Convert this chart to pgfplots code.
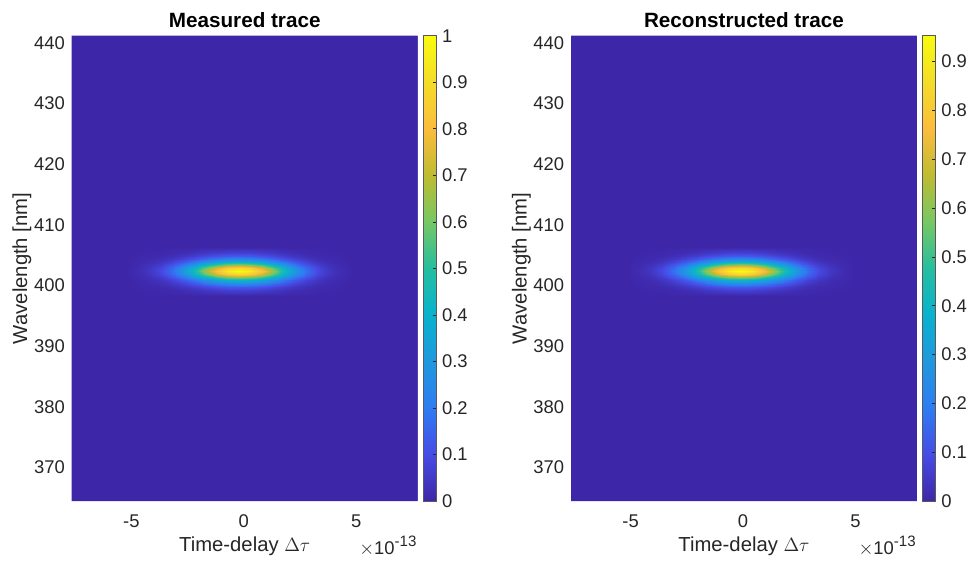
\documentclass[border=0pt]{standalone}
\usepackage{pgfplots}
\pgfplotsset{compat=1.18}
\usepackage{fontspec}
\setmainfont{Liberation Sans}
\definecolor{tickgray}{rgb}{0.15,0.15,0.15}
\definecolor{cbline}{rgb}{0.35,0.35,0.35}
\pgfplotsset{
  colormap={parula}{rgb255=(62,38,168) rgb255=(70,76,230) rgb255=(46,124,242) rgb255=(32,152,223) rgb255=(9,178,206) rgb255=(38,190,160) rgb255=(118,200,100) rgb255=(190,188,50) rgb255=(252,188,61) rgb255=(244,220,40) rgb255=(249,251,14)},
  heat/.style={
    view={0}{90}, scale only axis, width=259.5pt, height=349pt,
    anchor=south west,
    xmin=-7.65, xmax=7.74, ymin=364.45, ymax=441.15,
    enlargelimits=false,
    axis line style={draw=none}, major tick length=0pt,
    xtick={-5,0,5}, xticklabels={-5,0,5},
    ytick={370,380,390,400,410,420,430,440},
    yticklabels={370,380,390,400,410,420,430,440},
    tick label style={font=\fontsize{13.8}{16}\selectfont, text=tickgray, inner sep=0pt},
    xticklabel style={anchor=base, yshift=-19.9pt},
    yticklabel style={anchor=east, xshift=-5pt},
    xlabel={Time-delay $\Delta\tau$},
    ylabel={Wavelength [nm]},
    xlabel style={font=\fontsize{15.2}{18}\selectfont, text=tickgray, at={(axis description cs:0.5,0)}, anchor=base, yshift=-38.2pt},
    ylabel style={font=\fontsize{15.2}{18}\selectfont, text=tickgray, at={(axis description cs:0,0.5)}, anchor=center, yshift=37.3pt},
    title style={font=\fontsize{15.5}{18}\selectfont\bfseries, at={(axis description cs:0.5,1)}, anchor=base, yshift=0.5pt},
    colormap name=parula,
    point meta min=0,
    colorbar,
  },
  cbar/.style={
    colorbar style={
      at={(parent axis.north east)}, anchor=north west, xshift=-4.25pt,
      scale only axis, width=9.3pt, height=349pt,
      axis line style={draw=cbline, line width=0.5pt},
      major tick length=2.5pt, tick align=inside,
      tick style={draw=tickgray, line width=0.4pt},
      xtick=\empty, xlabel={}, ylabel={}, title={},
      ytick pos=right, yticklabel pos=right,
      yticklabel style={font=\fontsize{13.8}{16}\selectfont, text=tickgray, anchor=west, inner sep=0pt, xshift=4.5pt},
      #1
    }
  }
}
\newcommand{\expolabel}{\fontsize{13.8}{16}\selectfont$\times$10\raisebox{6pt}{\fontsize{11.3}{12}\selectfont -13}}
\begin{document}
\begin{tikzpicture}
\path[use as bounding box] (0,0) rectangle (726pt,420.75pt);
% ---------------- Left panel ----------------
\begin{axis}[heat, name=L, at={(53.8pt,45pt)}, title={Measured trace}, point meta max=1,
  cbar={ytick={0,0.1,0.2,0.3,0.4,0.5,0.6,0.7,0.8,0.9,1}, yticklabels={0,0.1,0.2,0.3,0.4,0.5,0.6,0.7,0.8,0.9,1}}]
\addplot3[surf, shader=flat, mesh/rows=2, mesh/cols=2] coordinates {(-7.65,364.45,0) (7.74,364.45,0) (-7.65,441.15,0) (7.74,441.15,0)};
\addplot3[surf, shader=interp, mesh/rows=17, mesh/cols=21] table[row sep=\\] {
x y z\\
-5.2 398.3 0\\ -4.7 398.3 0\\ -4.2 398.3 0\\ -3.7 398.3 0\\ -3.2 398.3 0\\ -2.7 398.3 0\\ -2.2 398.3 0\\ -1.7 398.3 0\\ -1.2 398.3 0\\ -0.7 398.3 0\\ -0.2 398.3 0\\ 0.3 398.3 0\\ 0.8 398.3 0\\ 1.3 398.3 0\\ 1.8 398.3 0\\ 2.3 398.3 0\\ 2.8 398.3 0\\ 3.3 398.3 0\\ 3.8 398.3 0\\ 4.3 398.3 0\\ 4.8 398.3 0\\
-5.2 398.8 0\\ -4.7 398.8 .001\\ -4.2 398.8 .002\\ -3.7 398.8 .003\\ -3.2 398.8 .006\\ -2.7 398.8 .011\\ -2.2 398.8 .017\\ -1.7 398.8 .024\\ -1.2 398.8 .030\\ -0.7 398.8 .035\\ -0.2 398.8 .037\\ 0.3 398.8 .035\\ 0.8 398.8 .030\\ 1.3 398.8 .024\\ 1.8 398.8 .017\\ 2.3 398.8 .011\\ 2.8 398.8 .006\\ 3.3 398.8 .003\\ 3.8 398.8 .002\\ 4.3 398.8 .001\\ 4.8 398.8 0\\
-5.2 399.3 0\\ -4.7 399.3 .001\\ -4.2 399.3 .003\\ -3.7 399.3 .006\\ -3.2 399.3 .012\\ -2.7 399.3 .021\\ -2.2 399.3 .033\\ -1.7 399.3 .046\\ -1.2 399.3 .058\\ -0.7 399.3 .068\\ -0.2 399.3 .071\\ 0.3 399.3 .068\\ 0.8 399.3 .058\\ 1.3 399.3 .046\\ 1.8 399.3 .033\\ 2.3 399.3 .021\\ 2.8 399.3 .012\\ 3.3 399.3 .006\\ 3.8 399.3 .003\\ 4.3 399.3 .001\\ 4.8 399.3 0\\
-5.2 399.8 0\\ -4.7 399.8 .003\\ -4.2 399.8 .006\\ -3.7 399.8 .012\\ -3.2 399.8 .023\\ -2.7 399.8 .039\\ -2.2 399.8 .061\\ -1.7 399.8 .086\\ -1.2 399.8 .109\\ -0.7 399.8 .127\\ -0.2 399.8 .133\\ 0.3 399.8 .127\\ 0.8 399.8 .109\\ 1.3 399.8 .086\\ 1.8 399.8 .061\\ 2.3 399.8 .039\\ 2.8 399.8 .023\\ 3.3 399.8 .012\\ 3.8 399.8 .006\\ 4.3 399.8 .003\\ 4.8 399.8 0\\
-5.2 400.3 0\\ -4.7 400.3 .005\\ -4.2 400.3 .011\\ -3.7 400.3 .022\\ -3.2 400.3 .042\\ -2.7 400.3 .072\\ -2.2 400.3 .111\\ -1.7 400.3 .156\\ -1.2 400.3 .200\\ -0.7 400.3 .231\\ -0.2 400.3 .243\\ 0.3 400.3 .231\\ 0.8 400.3 .200\\ 1.3 400.3 .156\\ 1.8 400.3 .111\\ 2.3 400.3 .072\\ 2.8 400.3 .042\\ 3.3 400.3 .022\\ 3.8 400.3 .011\\ 4.3 400.3 .005\\ 4.8 400.3 0\\
-5.2 400.8 0\\ -4.7 400.8 .008\\ -4.2 400.8 .018\\ -3.7 400.8 .038\\ -3.2 400.8 .072\\ -2.7 400.8 .124\\ -2.2 400.8 .192\\ -1.7 400.8 .270\\ -1.2 400.8 .346\\ -0.7 400.8 .400\\ -0.2 400.8 .420\\ 0.3 400.8 .400\\ 0.8 400.8 .346\\ 1.3 400.8 .270\\ 1.8 400.8 .192\\ 2.3 400.8 .124\\ 2.8 400.8 .072\\ 3.3 400.8 .038\\ 3.8 400.8 .018\\ 4.3 400.8 .008\\ 4.8 400.8 0\\
-5.2 401.3 0\\ -4.7 401.3 .013\\ -4.2 401.3 .029\\ -3.7 401.3 .060\\ -3.2 401.3 .114\\ -2.7 401.3 .195\\ -2.2 401.3 .302\\ -1.7 401.3 .425\\ -1.2 401.3 .543\\ -0.7 401.3 .628\\ -0.2 401.3 .660\\ 0.3 401.3 .628\\ 0.8 401.3 .543\\ 1.3 401.3 .425\\ 1.8 401.3 .302\\ 2.3 401.3 .195\\ 2.8 401.3 .114\\ 3.3 401.3 .060\\ 3.8 401.3 .029\\ 4.3 401.3 .013\\ 4.8 401.3 0\\
-5.2 401.8 0\\ -4.7 401.8 .017\\ -4.2 401.8 .039\\ -3.7 401.8 .082\\ -3.2 401.8 .154\\ -2.7 401.8 .265\\ -2.2 401.8 .411\\ -1.7 401.8 .578\\ -1.2 401.8 .738\\ -0.7 401.8 .854\\ -0.2 401.8 .897\\ 0.3 401.8 .854\\ 0.8 401.8 .738\\ 1.3 401.8 .578\\ 1.8 401.8 .411\\ 2.3 401.8 .265\\ 2.8 401.8 .154\\ 3.3 401.8 .082\\ 3.8 401.8 .039\\ 4.3 401.8 .017\\ 4.8 401.8 0\\
-5.2 402.3 0\\ -4.7 402.3 .019\\ -4.2 402.3 .044\\ -3.7 402.3 .091\\ -3.2 402.3 .172\\ -2.7 402.3 .295\\ -2.2 402.3 .458\\ -1.7 402.3 .644\\ -1.2 402.3 .823\\ -0.7 402.3 .952\\ -0.2 402.3 1\\ 0.3 402.3 .952\\ 0.8 402.3 .823\\ 1.3 402.3 .644\\ 1.8 402.3 .458\\ 2.3 402.3 .295\\ 2.8 402.3 .172\\ 3.3 402.3 .091\\ 3.8 402.3 .044\\ 4.3 402.3 .019\\ 4.8 402.3 0\\
-5.2 402.8 0\\ -4.7 402.8 .017\\ -4.2 402.8 .039\\ -3.7 402.8 .082\\ -3.2 402.8 .154\\ -2.7 402.8 .265\\ -2.2 402.8 .411\\ -1.7 402.8 .578\\ -1.2 402.8 .738\\ -0.7 402.8 .854\\ -0.2 402.8 .897\\ 0.3 402.8 .854\\ 0.8 402.8 .738\\ 1.3 402.8 .578\\ 1.8 402.8 .411\\ 2.3 402.8 .265\\ 2.8 402.8 .154\\ 3.3 402.8 .082\\ 3.8 402.8 .039\\ 4.3 402.8 .017\\ 4.8 402.8 0\\
-5.2 403.3 0\\ -4.7 403.3 .013\\ -4.2 403.3 .029\\ -3.7 403.3 .060\\ -3.2 403.3 .114\\ -2.7 403.3 .195\\ -2.2 403.3 .302\\ -1.7 403.3 .425\\ -1.2 403.3 .543\\ -0.7 403.3 .628\\ -0.2 403.3 .660\\ 0.3 403.3 .628\\ 0.8 403.3 .543\\ 1.3 403.3 .425\\ 1.8 403.3 .302\\ 2.3 403.3 .195\\ 2.8 403.3 .114\\ 3.3 403.3 .060\\ 3.8 403.3 .029\\ 4.3 403.3 .013\\ 4.8 403.3 0\\
-5.2 403.8 0\\ -4.7 403.8 .008\\ -4.2 403.8 .018\\ -3.7 403.8 .038\\ -3.2 403.8 .072\\ -2.7 403.8 .124\\ -2.2 403.8 .192\\ -1.7 403.8 .270\\ -1.2 403.8 .346\\ -0.7 403.8 .400\\ -0.2 403.8 .420\\ 0.3 403.8 .400\\ 0.8 403.8 .346\\ 1.3 403.8 .270\\ 1.8 403.8 .192\\ 2.3 403.8 .124\\ 2.8 403.8 .072\\ 3.3 403.8 .038\\ 3.8 403.8 .018\\ 4.3 403.8 .008\\ 4.8 403.8 0\\
-5.2 404.3 0\\ -4.7 404.3 .005\\ -4.2 404.3 .011\\ -3.7 404.3 .022\\ -3.2 404.3 .042\\ -2.7 404.3 .072\\ -2.2 404.3 .111\\ -1.7 404.3 .156\\ -1.2 404.3 .200\\ -0.7 404.3 .231\\ -0.2 404.3 .243\\ 0.3 404.3 .231\\ 0.8 404.3 .200\\ 1.3 404.3 .156\\ 1.8 404.3 .111\\ 2.3 404.3 .072\\ 2.8 404.3 .042\\ 3.3 404.3 .022\\ 3.8 404.3 .011\\ 4.3 404.3 .005\\ 4.8 404.3 0\\
-5.2 404.8 0\\ -4.7 404.8 .003\\ -4.2 404.8 .006\\ -3.7 404.8 .012\\ -3.2 404.8 .023\\ -2.7 404.8 .039\\ -2.2 404.8 .061\\ -1.7 404.8 .086\\ -1.2 404.8 .109\\ -0.7 404.8 .127\\ -0.2 404.8 .133\\ 0.3 404.8 .127\\ 0.8 404.8 .109\\ 1.3 404.8 .086\\ 1.8 404.8 .061\\ 2.3 404.8 .039\\ 2.8 404.8 .023\\ 3.3 404.8 .012\\ 3.8 404.8 .006\\ 4.3 404.8 .003\\ 4.8 404.8 0\\
-5.2 405.3 0\\ -4.7 405.3 .001\\ -4.2 405.3 .003\\ -3.7 405.3 .006\\ -3.2 405.3 .012\\ -2.7 405.3 .021\\ -2.2 405.3 .033\\ -1.7 405.3 .046\\ -1.2 405.3 .058\\ -0.7 405.3 .068\\ -0.2 405.3 .071\\ 0.3 405.3 .068\\ 0.8 405.3 .058\\ 1.3 405.3 .046\\ 1.8 405.3 .033\\ 2.3 405.3 .021\\ 2.8 405.3 .012\\ 3.3 405.3 .006\\ 3.8 405.3 .003\\ 4.3 405.3 .001\\ 4.8 405.3 0\\
-5.2 405.8 0\\ -4.7 405.8 .001\\ -4.2 405.8 .002\\ -3.7 405.8 .003\\ -3.2 405.8 .006\\ -2.7 405.8 .011\\ -2.2 405.8 .017\\ -1.7 405.8 .024\\ -1.2 405.8 .030\\ -0.7 405.8 .035\\ -0.2 405.8 .037\\ 0.3 405.8 .035\\ 0.8 405.8 .030\\ 1.3 405.8 .024\\ 1.8 405.8 .017\\ 2.3 405.8 .011\\ 2.8 405.8 .006\\ 3.3 405.8 .003\\ 3.8 405.8 .002\\ 4.3 405.8 .001\\ 4.8 405.8 0\\
-5.2 406.3 0\\ -4.7 406.3 0\\ -4.2 406.3 0\\ -3.7 406.3 0\\ -3.2 406.3 0\\ -2.7 406.3 0\\ -2.2 406.3 0\\ -1.7 406.3 0\\ -1.2 406.3 0\\ -0.7 406.3 0\\ -0.2 406.3 0\\ 0.3 406.3 0\\ 0.8 406.3 0\\ 1.3 406.3 0\\ 1.8 406.3 0\\ 2.3 406.3 0\\ 2.8 406.3 0\\ 3.3 406.3 0\\ 3.8 406.3 0\\ 4.3 406.3 0\\ 4.8 406.3 0\\
};
\end{axis}
% ---------------- Right panel ----------------
\begin{axis}[heat, name=R, at={(428.25pt,45pt)}, title={Reconstructed trace}, point meta max=0.953,
  cbar={ytick={0,0.1,0.2,0.3,0.4,0.5,0.6,0.7,0.8,0.9}, yticklabels={0,0.1,0.2,0.3,0.4,0.5,0.6,0.7,0.8,0.9}}]
\addplot3[surf, shader=flat, mesh/rows=2, mesh/cols=2] coordinates {(-7.65,364.45,0) (7.74,364.45,0) (-7.65,441.15,0) (7.74,441.15,0)};
\addplot3[surf, shader=interp, mesh/rows=17, mesh/cols=21] table[row sep=\\] {
x y z\\
-5.1 398.3 0\\ -4.6 398.3 0\\ -4.1 398.3 0\\ -3.6 398.3 0\\ -3.1 398.3 0\\ -2.6 398.3 0\\ -2.1 398.3 0\\ -1.6 398.3 0\\ -1.1 398.3 0\\ -0.6 398.3 0\\ -0.1 398.3 0\\ 0.4 398.3 0\\ 0.9 398.3 0\\ 1.4 398.3 0\\ 1.9 398.3 0\\ 2.4 398.3 0\\ 2.9 398.3 0\\ 3.4 398.3 0\\ 3.9 398.3 0\\ 4.4 398.3 0\\ 4.9 398.3 0\\
-5.1 398.8 0\\ -4.6 398.8 .001\\ -4.1 398.8 .002\\ -3.6 398.8 .003\\ -3.1 398.8 .006\\ -2.6 398.8 .010\\ -2.1 398.8 .016\\ -1.6 398.8 .023\\ -1.1 398.8 .029\\ -0.6 398.8 .033\\ -0.1 398.8 .035\\ 0.4 398.8 .033\\ 0.9 398.8 .029\\ 1.4 398.8 .023\\ 1.9 398.8 .016\\ 2.4 398.8 .010\\ 2.9 398.8 .006\\ 3.4 398.8 .003\\ 3.9 398.8 .002\\ 4.4 398.8 .001\\ 4.9 398.8 0\\
-5.1 399.3 0\\ -4.6 399.3 .001\\ -4.1 399.3 .003\\ -3.6 399.3 .006\\ -3.1 399.3 .011\\ -2.6 399.3 .020\\ -2.1 399.3 .031\\ -1.6 399.3 .044\\ -1.1 399.3 .055\\ -0.6 399.3 .065\\ -0.1 399.3 .068\\ 0.4 399.3 .065\\ 0.9 399.3 .055\\ 1.4 399.3 .044\\ 1.9 399.3 .031\\ 2.4 399.3 .020\\ 2.9 399.3 .011\\ 3.4 399.3 .006\\ 3.9 399.3 .003\\ 4.4 399.3 .001\\ 4.9 399.3 0\\
-5.1 399.8 0\\ -4.6 399.8 .003\\ -4.1 399.8 .006\\ -3.6 399.8 .011\\ -3.1 399.8 .022\\ -2.6 399.8 .037\\ -2.1 399.8 .058\\ -1.6 399.8 .082\\ -1.1 399.8 .104\\ -0.6 399.8 .121\\ -0.1 399.8 .127\\ 0.4 399.8 .121\\ 0.9 399.8 .104\\ 1.4 399.8 .082\\ 1.9 399.8 .058\\ 2.4 399.8 .037\\ 2.9 399.8 .022\\ 3.4 399.8 .011\\ 3.9 399.8 .006\\ 4.4 399.8 .003\\ 4.9 399.8 0\\
-5.1 400.3 0\\ -4.6 400.3 .005\\ -4.1 400.3 .010\\ -3.6 400.3 .021\\ -3.1 400.3 .040\\ -2.6 400.3 .069\\ -2.1 400.3 .106\\ -1.6 400.3 .149\\ -1.1 400.3 .191\\ -0.6 400.3 .220\\ -0.1 400.3 .232\\ 0.4 400.3 .220\\ 0.9 400.3 .191\\ 1.4 400.3 .149\\ 1.9 400.3 .106\\ 2.4 400.3 .069\\ 2.9 400.3 .040\\ 3.4 400.3 .021\\ 3.9 400.3 .010\\ 4.4 400.3 .005\\ 4.9 400.3 0\\
-5.1 400.8 0\\ -4.6 400.8 .008\\ -4.1 400.8 .017\\ -3.6 400.8 .036\\ -3.1 400.8 .069\\ -2.6 400.8 .118\\ -2.1 400.8 .183\\ -1.6 400.8 .257\\ -1.1 400.8 .330\\ -0.6 400.8 .381\\ -0.1 400.8 .400\\ 0.4 400.8 .381\\ 0.9 400.8 .330\\ 1.4 400.8 .257\\ 1.9 400.8 .183\\ 2.4 400.8 .118\\ 2.9 400.8 .069\\ 3.4 400.8 .036\\ 3.9 400.8 .017\\ 4.4 400.8 .008\\ 4.9 400.8 0\\
-5.1 401.3 0\\ -4.6 401.3 .012\\ -4.1 401.3 .028\\ -3.6 401.3 .057\\ -3.1 401.3 .109\\ -2.6 401.3 .186\\ -2.1 401.3 .288\\ -1.6 401.3 .405\\ -1.1 401.3 .517\\ -0.6 401.3 .598\\ -0.1 401.3 .629\\ 0.4 401.3 .598\\ 0.9 401.3 .517\\ 1.4 401.3 .405\\ 1.9 401.3 .288\\ 2.4 401.3 .186\\ 2.9 401.3 .109\\ 3.4 401.3 .057\\ 3.9 401.3 .028\\ 4.4 401.3 .012\\ 4.9 401.3 0\\
-5.1 401.8 0\\ -4.6 401.8 .016\\ -4.1 401.8 .037\\ -3.6 401.8 .078\\ -3.1 401.8 .147\\ -2.6 401.8 .253\\ -2.1 401.8 .392\\ -1.6 401.8 .551\\ -1.1 401.8 .703\\ -0.6 401.8 .814\\ -0.1 401.8 .855\\ 0.4 401.8 .814\\ 0.9 401.8 .703\\ 1.4 401.8 .551\\ 1.9 401.8 .392\\ 2.4 401.8 .253\\ 2.9 401.8 .147\\ 3.4 401.8 .078\\ 3.9 401.8 .037\\ 4.4 401.8 .016\\ 4.9 401.8 0\\
-5.1 402.3 0\\ -4.6 402.3 .018\\ -4.1 402.3 .042\\ -3.6 402.3 .087\\ -3.1 402.3 .164\\ -2.6 402.3 .281\\ -2.1 402.3 .436\\ -1.6 402.3 .614\\ -1.1 402.3 .784\\ -0.6 402.3 .907\\ -0.1 402.3 .953\\ 0.4 402.3 .907\\ 0.9 402.3 .784\\ 1.4 402.3 .614\\ 1.9 402.3 .436\\ 2.4 402.3 .281\\ 2.9 402.3 .164\\ 3.4 402.3 .087\\ 3.9 402.3 .042\\ 4.4 402.3 .018\\ 4.9 402.3 0\\
-5.1 402.8 0\\ -4.6 402.8 .016\\ -4.1 402.8 .037\\ -3.6 402.8 .078\\ -3.1 402.8 .147\\ -2.6 402.8 .253\\ -2.1 402.8 .392\\ -1.6 402.8 .551\\ -1.1 402.8 .703\\ -0.6 402.8 .814\\ -0.1 402.8 .855\\ 0.4 402.8 .814\\ 0.9 402.8 .703\\ 1.4 402.8 .551\\ 1.9 402.8 .392\\ 2.4 402.8 .253\\ 2.9 402.8 .147\\ 3.4 402.8 .078\\ 3.9 402.8 .037\\ 4.4 402.8 .016\\ 4.9 402.8 0\\
-5.1 403.3 0\\ -4.6 403.3 .012\\ -4.1 403.3 .028\\ -3.6 403.3 .057\\ -3.1 403.3 .109\\ -2.6 403.3 .186\\ -2.1 403.3 .288\\ -1.6 403.3 .405\\ -1.1 403.3 .517\\ -0.6 403.3 .598\\ -0.1 403.3 .629\\ 0.4 403.3 .598\\ 0.9 403.3 .517\\ 1.4 403.3 .405\\ 1.9 403.3 .288\\ 2.4 403.3 .186\\ 2.9 403.3 .109\\ 3.4 403.3 .057\\ 3.9 403.3 .028\\ 4.4 403.3 .012\\ 4.9 403.3 0\\
-5.1 403.8 0\\ -4.6 403.8 .008\\ -4.1 403.8 .017\\ -3.6 403.8 .036\\ -3.1 403.8 .069\\ -2.6 403.8 .118\\ -2.1 403.8 .183\\ -1.6 403.8 .257\\ -1.1 403.8 .330\\ -0.6 403.8 .381\\ -0.1 403.8 .400\\ 0.4 403.8 .381\\ 0.9 403.8 .330\\ 1.4 403.8 .257\\ 1.9 403.8 .183\\ 2.4 403.8 .118\\ 2.9 403.8 .069\\ 3.4 403.8 .036\\ 3.9 403.8 .017\\ 4.4 403.8 .008\\ 4.9 403.8 0\\
-5.1 404.3 0\\ -4.6 404.3 .005\\ -4.1 404.3 .010\\ -3.6 404.3 .021\\ -3.1 404.3 .040\\ -2.6 404.3 .069\\ -2.1 404.3 .106\\ -1.6 404.3 .149\\ -1.1 404.3 .191\\ -0.6 404.3 .220\\ -0.1 404.3 .232\\ 0.4 404.3 .220\\ 0.9 404.3 .191\\ 1.4 404.3 .149\\ 1.9 404.3 .106\\ 2.4 404.3 .069\\ 2.9 404.3 .040\\ 3.4 404.3 .021\\ 3.9 404.3 .010\\ 4.4 404.3 .005\\ 4.9 404.3 0\\
-5.1 404.8 0\\ -4.6 404.8 .003\\ -4.1 404.8 .006\\ -3.6 404.8 .011\\ -3.1 404.8 .022\\ -2.6 404.8 .037\\ -2.1 404.8 .058\\ -1.6 404.8 .082\\ -1.1 404.8 .104\\ -0.6 404.8 .121\\ -0.1 404.8 .127\\ 0.4 404.8 .121\\ 0.9 404.8 .104\\ 1.4 404.8 .082\\ 1.9 404.8 .058\\ 2.4 404.8 .037\\ 2.9 404.8 .022\\ 3.4 404.8 .011\\ 3.9 404.8 .006\\ 4.4 404.8 .003\\ 4.9 404.8 0\\
-5.1 405.3 0\\ -4.6 405.3 .001\\ -4.1 405.3 .003\\ -3.6 405.3 .006\\ -3.1 405.3 .011\\ -2.6 405.3 .020\\ -2.1 405.3 .031\\ -1.6 405.3 .044\\ -1.1 405.3 .055\\ -0.6 405.3 .065\\ -0.1 405.3 .068\\ 0.4 405.3 .065\\ 0.9 405.3 .055\\ 1.4 405.3 .044\\ 1.9 405.3 .031\\ 2.4 405.3 .020\\ 2.9 405.3 .011\\ 3.4 405.3 .006\\ 3.9 405.3 .003\\ 4.4 405.3 .001\\ 4.9 405.3 0\\
-5.1 405.8 0\\ -4.6 405.8 .001\\ -4.1 405.8 .002\\ -3.6 405.8 .003\\ -3.1 405.8 .006\\ -2.6 405.8 .010\\ -2.1 405.8 .016\\ -1.6 405.8 .023\\ -1.1 405.8 .029\\ -0.6 405.8 .033\\ -0.1 405.8 .035\\ 0.4 405.8 .033\\ 0.9 405.8 .029\\ 1.4 405.8 .023\\ 1.9 405.8 .016\\ 2.4 405.8 .010\\ 2.9 405.8 .006\\ 3.4 405.8 .003\\ 3.9 405.8 .002\\ 4.4 405.8 .001\\ 4.9 405.8 0\\
-5.1 406.3 0\\ -4.6 406.3 0\\ -4.1 406.3 0\\ -3.6 406.3 0\\ -3.1 406.3 0\\ -2.6 406.3 0\\ -2.1 406.3 0\\ -1.6 406.3 0\\ -1.1 406.3 0\\ -0.6 406.3 0\\ -0.1 406.3 0\\ 0.4 406.3 0\\ 0.9 406.3 0\\ 1.4 406.3 0\\ 1.9 406.3 0\\ 2.4 406.3 0\\ 2.9 406.3 0\\ 3.4 406.3 0\\ 3.9 406.3 0\\ 4.4 406.3 0\\ 4.9 406.3 0\\
};
\end{axis}
\node[anchor=base east, inner sep=0pt, text=tickgray, xshift=-0.75pt, yshift=-40pt] at (L.south east) {\expolabel};
\node[anchor=base east, inner sep=0pt, text=tickgray, xshift=-0.75pt, yshift=-40pt] at (R.south east) {\expolabel};
\end{tikzpicture}
\end{document}
